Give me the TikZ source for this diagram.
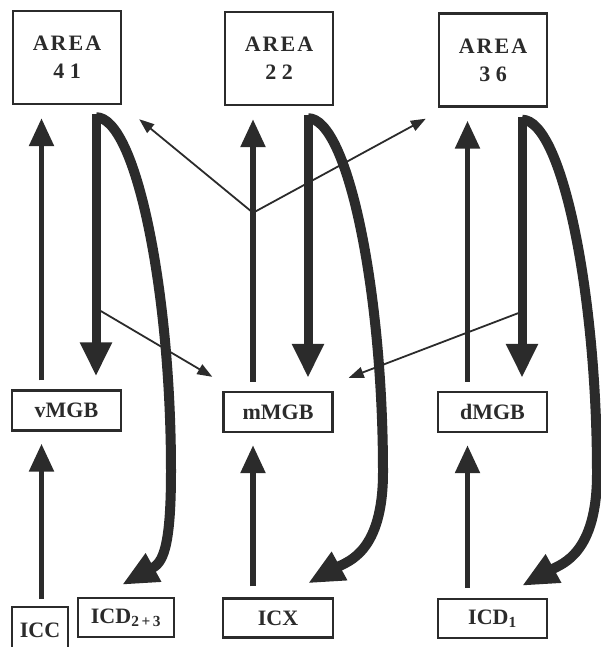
\documentclass[tikz,border=0pt]{standalone}
\usepackage{fontspec}
\setmainfont{Liberation Serif}
\usepackage{tikz}
\usetikzlibrary{arrows.meta}
\definecolor{ink}{HTML}{2B2B2B}
\tikzstyle{box}=[
	draw=ink,
	line width=2.4pt,
	inner sep=0pt,
	text=ink,
	align=center,
	font=\fontsize{22}{28}\selectfont\bfseries
]
\tikzstyle{area}=[
	box,
	minimum width=108pt,
	minimum height=93pt
]
\tikzstyle{mgb}=[
	box,
	minimum width=109pt,
	minimum height=40pt
]
\tikzstyle{ic}=[
	box,
	minimum height=39pt
]
\tikzstyle{ascend}=[
	draw=ink,
	line width=5.5pt,
	-{Triangle[length=28pt,width=24pt]}
]
\tikzstyle{descend}=[
	draw=ink,
	line width=9pt,
	-{Triangle[length=34pt,width=30pt]}
]
\tikzstyle{feedback}=[
	draw=ink,
	line width=10pt,
	-{Triangle[length=36pt,width=30pt]}
]
\tikzstyle{branch}=[
	draw=ink,
	line width=1.8pt,
	-{Triangle[length=15pt,width=11pt]}
]

\begin{document}
\begin{tikzpicture}[x=1pt,y=-1pt]
\useasboundingbox (0,0) rectangle (600,647);

\node[area] (a41) at (67,57.5) {A\kern2pt R\kern2pt E\kern2pt A\\4 1};
\node[area] (a22) at (279,58.5) {A\kern2pt R\kern2pt E\kern2pt A\\2 2};
\node[area] (a36) at (493,60) {A\kern2pt R\kern2pt E\kern2pt A\\3 6};

\node[mgb] (vmgb) at (66.5,410.5) {vMGB};
\node[mgb] (mmgb) at (278,412) {mMGB};
\node[mgb] (dmgb) at (492.5,412) {dMGB};

\node[ic, minimum width=56pt, minimum height=46pt] (icc) at (40,630) {ICC};
\node[ic, minimum width=96pt] (icd23) at (126,617.5) {ICD\textsubscript{2\,+\,3}};
\node[ic, minimum width=110pt] (icx) at (278,618) {ICX};
\node[ic, minimum width=109pt] (icd1) at (492.5,618.5) {ICD\textsubscript{1}};

% tips of the curved returns
\coordinate (t1) at ([xshift=-4pt,yshift=12pt]icd23.north);
\coordinate (t2) at ([xshift=30pt,yshift=14pt]icx.north);
\coordinate (t3) at ([xshift=29.5pt,yshift=12pt]icd1.north);
\coordinate (j) at ([xshift=-25pt,yshift=178pt]mmgb.north);

\draw[branch] (j) to ([xshift=17pt,yshift=-14pt]a41.south east);
\draw[branch] (j) to ([xshift=-12pt,yshift=-11pt]a36.south west);
\draw[branch] ([xshift=29pt,yshift=-203pt]a41.south) to ([xshift=-10pt,yshift=14pt]mmgb.north west);
\draw[branch] ([xshift=29pt,yshift=-204pt]a36.south) to ([xshift=15pt,yshift=13pt]mmgb.north east);

\foreach \lo/\hi in {vmgb/a41, mmgb/a22, dmgb/a36}
	\draw[ascend, shorten <=9pt, shorten >=13pt] ([xshift=-25pt]\lo.north) -- ([xshift=-25pt]\lo.north |- \hi.south);

\foreach \lo/\hi/\gap in {icc/vmgb/7, icx/mmgb/11, icd1/dmgb/10}
	\draw[ascend, shorten <=\gap pt, shorten >=12pt] ([xshift=-25pt]\hi.south |- \lo.north) -- ([xshift=-25pt]\hi.south);

\foreach \hi/\lo in {a41/vmgb, a22/mmgb, a36/dmgb}
	\draw[descend, shorten <=9pt, shorten >=13pt] ([xshift=29pt]\hi.south) -- ([xshift=29pt]\hi.south |- \lo.north);

\foreach \hi/\tip in {a41/t1, a22/t2, a36/t3}
	\draw[feedback] ([xshift=29pt,yshift=-12pt]\hi.south) .. controls +(40,0) and +(0,-180) .. ++(75,354) .. controls +(0,80) and +(40,-22) .. (\tip);

\end{tikzpicture}
\end{document}
